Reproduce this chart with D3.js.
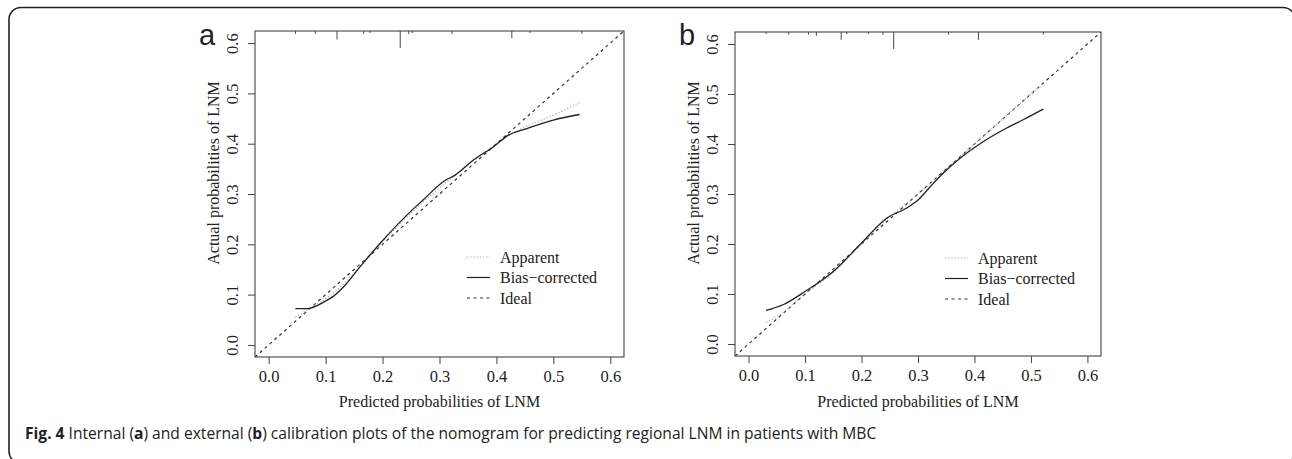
<!DOCTYPE html>
<html>
<head>
<meta charset="utf-8">
<script src="https://cdn.jsdelivr.net/npm/d3@7"></script>
<style>
  body { margin: 0; background: #fff; }
  svg text { fill: #222; }
  .serif { font-family: "Liberation Serif", "DejaVu Serif", serif; }
</style>
</head>
<body>
<svg id="chart" width="1292" height="459"></svg>
<script>
// ticks shared by both panels
const tickValues = [0.0, 0.1, 0.2, 0.3, 0.4, 0.5, 0.6];
const legendLabels = ["Apparent", "Bias\u2212corrected", "Ideal"];

// panel a (internal)
const apparentA = [[0.047,0.055],[0.08,0.078],[0.1,0.092],[0.13,0.12],[0.16,0.155],[0.2,0.205],[0.25,0.262],[0.3,0.312],[0.35,0.358],[0.4,0.4],[0.42,0.415],[0.45,0.433],[0.5,0.457],[0.546,0.482]];
const biasA = [[0.047,0.072],[0.067,0.072],[0.0995,0.087],[0.114,0.097],[0.132,0.116],[0.161,0.156],[0.199,0.206],[0.249,0.265],[0.272,0.289],[0.307,0.325],[0.328,0.338],[0.36,0.368],[0.395,0.394],[0.421,0.417],[0.453,0.43],[0.5,0.447],[0.546,0.458]];
const rugA = [0.047, 0.082, 0.12, 0.167, 0.178, 0.231, 0.246, 0.252, 0.322, 0.427, 0.459, 0.55];
const rugCountA = [2, 2, 6, 2, 1, 12, 2, 1, 2, 5, 1, 2];

// panel b (external)
const apparentB = [[0.031,0.043],[0.06,0.062],[0.1,0.1],[0.15,0.143],[0.2,0.2],[0.25,0.255],[0.3,0.3],[0.35,0.35],[0.4,0.4],[0.45,0.45],[0.5,0.5],[0.522,0.52]];
const biasB = [[0.031,0.067],[0.062,0.079],[0.1,0.105],[0.15,0.145],[0.2,0.202],[0.245,0.252],[0.28,0.272],[0.301,0.289],[0.322,0.315],[0.345,0.342],[0.375,0.372],[0.416,0.405],[0.457,0.432],[0.487,0.449],[0.522,0.47]];
const rugB = [0.031, 0.071, 0.106, 0.12, 0.164, 0.174, 0.212, 0.238, 0.257, 0.354, 0.407, 0.522];
const rugCountB = [1, 2, 2, 3, 6, 1, 1, 2, 13, 2, 6, 2];

const svg = d3.select("#chart");

// outer figure frame (runs off the right and bottom edges)
svg.append("rect")
  .attr("x", 9).attr("y", 7.5).attr("width", 1286).attr("height", 456)
  .attr("rx", 12).attr("fill", "none").attr("stroke", "#222").attr("stroke-width", 1.6);

const domain = [-0.024, 0.624];

function panel(cfg) {
  const x = d3.scaleLinear().domain(domain).range([cfg.left, cfg.right]);
  const y = d3.scaleLinear().domain(domain).range([cfg.bottom, cfg.top]);
  const g = svg.append("g");
  const clipId = "clip-" + cfg.letter;

  g.append("clipPath").attr("id", clipId).append("rect")
    .attr("x", cfg.left).attr("y", cfg.top)
    .attr("width", cfg.right - cfg.left).attr("height", cfg.bottom - cfg.top);

  // x axis
  const xa = g.append("g").attr("transform", `translate(0,${cfg.bottom})`)
    .call(d3.axisBottom(x).tickValues(tickValues).tickFormat(d3.format(".1f")).tickSize(7).tickSizeOuter(0).tickPadding(6));
  xa.select(".domain").remove();
  xa.selectAll("line").attr("stroke", "#444");
  xa.selectAll("text").attr("class", "serif").style("font-size", "16.5px").attr("fill", "#222");

  // y axis with rotated labels
  const ya = g.append("g").attr("transform", `translate(${cfg.left},0)`)
    .call(d3.axisLeft(y).tickValues(tickValues).tickFormat(d3.format(".1f")).tickSize(7).tickSizeOuter(0));
  ya.select(".domain").remove();
  ya.selectAll("line").attr("stroke", "#444");
  ya.selectAll("text")
    .attr("class", "serif").style("font-size", "16.5px").attr("fill", "#222")
    .attr("x", null).attr("dy", null)
    .attr("text-anchor", "middle")
    .attr("transform", "translate(-17,0) rotate(-90)");

  // frame
  g.append("rect")
    .attr("x", cfg.left).attr("y", cfg.top)
    .attr("width", cfg.right - cfg.left).attr("height", cfg.bottom - cfg.top)
    .attr("fill", "none").attr("stroke", "#444").attr("stroke-width", 1.1);

  // rug (distribution of predicted values) along the top
  const len = d3.scaleLinear().domain([0, d3.max(cfg.rugCount)]).range([0, 17]);
  g.append("g").selectAll("line").data(cfg.rug).join("line")
    .attr("x1", d => x(d)).attr("x2", d => x(d))
    .attr("y1", cfg.top).attr("y2", (d, i) => cfg.top + Math.max(2, len(cfg.rugCount[i])))
    .attr("stroke", "#444").attr("stroke-width", 1);

  const line = d3.line().x(d => x(d[0])).y(d => y(d[1])).curve(d3.curveMonotoneX);
  const plot = g.append("g").attr("clip-path", `url(#${clipId})`);

  // ideal
  plot.append("line")
    .attr("x1", x(domain[0])).attr("y1", y(domain[0]))
    .attr("x2", x(domain[1])).attr("y2", y(domain[1]))
    .attr("stroke", "#333").attr("stroke-width", 1.2).attr("stroke-dasharray", "3,3.5");
  plot.append("path").attr("d", line(cfg.apparent))
    .attr("fill", "none").attr("stroke", "#aaa").attr("stroke-width", 1.2).attr("stroke-dasharray", "1.2,2");
  plot.append("path").attr("d", line(cfg.bias))
    .attr("fill", "none").attr("stroke", "#222").attr("stroke-width", 1.3);

  // axis titles
  g.append("text").attr("class", "serif")
    .attr("x", (cfg.left + cfg.right) / 2).attr("y", 407)
    .attr("text-anchor", "middle").style("font-size", "16px")
    .text("Predicted probabilities of LNM");
  g.append("text").attr("class", "serif")
    .attr("transform", `translate(${cfg.left - 36},${(cfg.top + cfg.bottom) / 2 - 21}) rotate(-90)`)
    .attr("text-anchor", "middle").style("font-size", "16px")
    .text("Actual probabilities of LNM");

  // panel letter
  g.append("text")
    .attr("x", cfg.letterX).attr("y", 45)
    .style("font-family", "Liberation Sans, Arial, sans-serif").style("font-size", "29px")
    .text(cfg.letter);

  // legend
  const styles = [
    { stroke: "#aaa", dash: "1.2,2" },
    { stroke: "#222", dash: null },
    { stroke: "#333", dash: "3,3.5" }
  ];
  const lg = g.append("g");
  legendLabels.forEach((lab, i) => {
    const ly = cfg.legendY + i * 20.5;
    lg.append("line")
      .attr("x1", cfg.legendX).attr("x2", cfg.legendX + 23)
      .attr("y1", ly).attr("y2", ly)
      .attr("stroke", styles[i].stroke).attr("stroke-width", 1.2)
      .attr("stroke-dasharray", styles[i].dash);
    lg.append("text").attr("class", "serif")
      .attr("x", cfg.legendX + 33).attr("y", ly + 5.5)
      .style("font-size", "16px").text(lab);
  });
}

panel({ letter: "a", left: 255, right: 624, top: 31, bottom: 357, letterX: 199,
  apparent: apparentA, bias: biasA, rug: rugA, rugCount: rugCountA, legendX: 467, legendY: 257 });
panel({ letter: "b", left: 735, right: 1101, top: 32, bottom: 356, letterX: 679,
  apparent: apparentB, bias: biasB, rug: rugB, rugCount: rugCountB, legendX: 945, legendY: 258 });

// caption
const cap = svg.append("text").attr("x", 25).attr("y", 439)
  .style("font-family", "Open Sans, sans-serif").style("font-size", "15.6px");
cap.append("tspan").style("font-weight", "bold").text("Fig. 4");
cap.append("tspan").text(" Internal (");
cap.append("tspan").style("font-weight", "bold").text("a");
cap.append("tspan").text(") and external (");
cap.append("tspan").style("font-weight", "bold").text("b");
cap.append("tspan").text(") calibration plots of the nomogram for predicting regional LNM in patients with MBC");
</script>
</body>
</html>
